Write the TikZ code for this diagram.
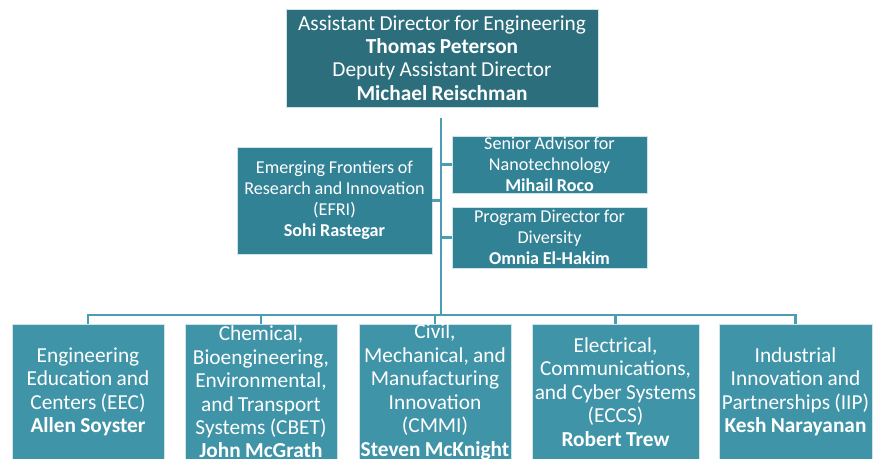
\documentclass[tikz,border=0pt]{standalone}
\usepackage{fontspec}
\setmainfont{Carlito}
\definecolor{topteal}{RGB}{44,110,124}
\definecolor{midteal}{RGB}{50,130,150}
\definecolor{lowteal}{RGB}{64,148,168}
\definecolor{linkteal}{RGB}{74,157,178}
\newcommand\tightsp{\spaceskip=0.2em\relax}
\tikzset{
  unitbox/.style={draw=white!75!lowteal, line width=.4pt, inner sep=0pt, align=center, text=white,
    execute at begin node=\tightsp},
  topbox/.style={unitbox, fill=topteal, font=\fontsize{16}{17.5}\selectfont},
  staffbox/.style={unitbox, fill=midteal, font=\fontsize{13.6}{15.8}\selectfont},
  divbox/.style={unitbox, fill=lowteal, font=\fontsize{16}{17.6}\selectfont,
    minimum height=135*0.75pt},
  link/.style={draw=linkteal, line width=2pt}
}
\begin{document}
\begin{tikzpicture}[x=0.75pt,y=-0.75pt]
		\useasboundingbox (0,0) rectangle (873,459);

		\node[topbox, minimum width=312*0.75pt, minimum height=98*0.75pt, text width=312*0.75pt] (ad) at (442,58)
			{Assistant Director for Engineering\\ \textbf{Thomas Peterson}\\ Deputy Assistant Director\\ \textbf{Michael Reischman}};

		\node[staffbox, minimum width=195*0.75pt, minimum height=107*0.75pt, text width=195*0.75pt] (efri) at (334.5,200.5)
			{Emerging Frontiers of\\ Research and Innovation\\ (EFRI)\\ \textbf{Sohi Rastegar}};
		\node[staffbox, minimum width=195*0.75pt, minimum height=57*0.75pt, text width=195*0.75pt] (nano) at (549.5,164.5)
			{Senior Advisor for\\ Nanotechnology\\ \textbf{Mihail Roco}};
		\node[staffbox, minimum width=195*0.75pt, minimum height=61*0.75pt, text width=195*0.75pt] (divers) at (549.5,237.5)
			{Program Director for\\ Diversity\\ \textbf{Omnia El-Hakim}};

		\node[divbox, minimum width=152*0.75pt, text width=152*0.75pt] (eec) at (88,392)
			{Engineering\\ Education and\\ Centers (EEC)\\ \textbf{Allen Soyster}};
		\node[divbox, minimum width=152*0.75pt, text width=152*0.75pt] (cbet) at (261,392)
			{Chemical,\\ Bioengineering,\\ Environmental,\\ and Transport\\ Systems (CBET)\\ \textbf{John McGrath}};
		\node[divbox, minimum width=152*0.75pt, text width=152*0.75pt] (cmmi) at (435,392)
			{Civil,\\ Mechanical, and\\ Manufacturing\\ Innovation\\ (CMMI)\\ \textbf{Steven McKnight}};
		\node[divbox, minimum width=167*0.75pt, text width=167*0.75pt] (eccs) at (615.5,392)
			{Electrical,\\ Communications,\\ \mbox{and Cyber Systems}\\ (ECCS)\\ \textbf{Robert Trew}};
		\node[divbox, minimum width=153*0.75pt, text width=153*0.75pt] (iip) at (795.5,392)
			{Industrial\\ Innovation and\\ Partnerships (IIP)\\ \textbf{Kesh Narayanan}};

		% trunk and bar
		\coordinate (trunk) at (441,118);
		\coordinate (bar) at (441,315);
		\draw[link] (trunk) -- (bar);
		\foreach \d in {eec,cbet,cmmi,eccs,iip}
			\draw[link] (\d.north) |- (bar);

		% staff offices
		\draw[link] (efri.east) -- (efri.east -| trunk);
		\draw[link] (nano.west) -- (nano.west -| trunk);
		\draw[link] (divers.west) -- (divers.west -| trunk);
\end{tikzpicture}
\end{document}
